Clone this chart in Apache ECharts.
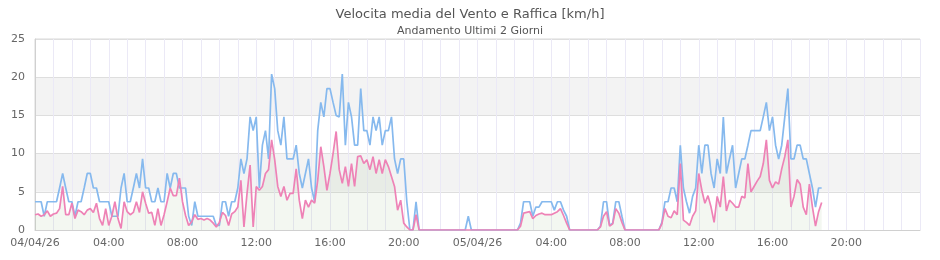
<!DOCTYPE html>
<html>
<head>
<meta charset="utf-8">
<script src="https://cdn.jsdelivr.net/npm/echarts@6/dist/echarts.min.js"></script>
<style>
html,body{margin:0;padding:0;background:#fff;}
#chart{width:940px;height:260px;}
</style>
</head>
<body>
<div id="chart"></div>
<script>
// Samples every 10 minutes starting 04/04/26 00:00 (one row = one hour)
const startLabel = '04/04/26 00:00';
const stepMinutes = 10;

// Raffica (gust) km/h
const gust = [
  3.7,3.7,3.7,1.8,3.7,3.7,
  3.7,3.7,5.5,7.4,5.5,3.7,
  3.7,1.8,3.7,3.7,5.5,7.4,
  7.4,5.5,5.5,3.7,3.7,3.7,
  3.7,1.8,1.8,1.8,5.5,7.4,
  3.7,3.7,5.5,7.4,5.5,9.3,
  5.5,5.5,3.7,3.7,5.5,3.7,
  3.7,7.4,5.5,7.4,7.4,5.5,
  5.5,5.5,1.8,0.6,3.7,1.8,
  1.8,1.8,1.8,1.8,1.8,0.6,
  0.6,3.7,3.7,1.8,3.7,3.7,
  5.5,9.3,7.4,9.3,14.8,13.0,
  14.8,5.5,11.1,13.0,9.3,20.4,
  18.5,13.0,11.1,14.8,9.3,9.3,
  9.3,11.1,7.4,5.5,7.4,9.3,
  5.5,3.7,13.0,16.7,14.8,18.5,
  18.5,16.7,15.0,14.8,20.4,11.1,
  16.7,14.8,11.1,11.1,18.5,13.0,
  13.0,11.1,14.8,13.0,14.8,11.1,
  13.0,13.0,14.8,9.3,7.4,9.3,
  9.3,3.7,0,0,3.7,0,
  0,0,0,0,0,0,
  0,0,0,0,0,0,
  0,0,0,1.8,0,0,
  0,0,0,0,0,0,
  0,0,0,0,0,0,
  0,0,0.9,3.7,3.7,3.7,
  1.8,3.0,3.0,3.7,3.7,3.7,
  3.7,2.6,3.7,3.7,2.6,1.8,
  0,0,0,0,0,0,
  0,0,0,0,0.5,3.7,
  3.7,0.6,0.9,3.7,3.7,1.8,
  0,0,0,0,0,0,
  0,0,0,0,0,0,
  1.0,3.7,3.7,5.5,5.5,3.7,
  11.1,5.5,3.7,2.2,4.4,5.5,
  11.1,7.4,11.1,11.1,7.4,5.5,
  9.3,7.4,14.8,7.4,9.3,11.1,
  5.5,7.4,9.3,9.3,11.1,13.0,
  13.0,13.0,13.0,14.8,16.7,13.0,
  14.8,11.1,9.3,11.1,14.8,18.5,
  9.3,9.3,11.1,11.1,9.3,9.3,
  7.4,5.5,3.0,5.5,5.5
];

// Velocita media (average) km/h
const media = [
  2.0,2.1,1.8,2.0,2.5,1.8,
  2.1,2.2,2.8,5.7,2.0,2.0,
  3.5,1.5,2.6,2.4,2.0,2.6,
  2.8,2.3,3.5,1.5,0.6,2.8,
  0.6,1.8,3.7,1.5,0.2,3.7,
  2.4,2.0,2.3,3.7,2.3,5.0,
  3.5,2.2,2.3,0.6,2.8,0.6,
  2.0,3.7,5.5,4.5,4.5,6.8,
  3.7,1.9,0.6,1.1,2.0,1.4,
  1.5,1.3,1.5,1.3,0.9,0.4,
  1.0,2.3,1.9,0.6,2.1,2.4,
  3.0,6.5,0.4,4.8,8.5,0.4,
  5.7,5.2,5.7,7.4,7.9,11.8,
  9.2,5.7,4.4,5.7,3.9,4.8,
  4.8,8.0,3.9,1.5,3.9,3.0,
  3.9,3.5,6.5,10.9,8.3,5.2,
  7.4,10.0,12.9,7.9,6.1,8.3,
  5.7,8.7,5.7,9.6,9.7,8.7,
  9.2,7.9,9.6,7.4,9.2,7.4,
  9.2,8.3,7.0,5.7,2.6,3.9,
  0.9,0.4,0,0,2.0,0,
  0,0,0,0,0,0,
  0,0,0,0,0,0,
  0,0,0,0,0,0,
  0,0,0,0,0,0,
  0,0,0,0,0,0,
  0,0,0.5,2.2,2.3,2.4,
  1.5,1.9,2.1,2.2,2.0,2.0,
  2.0,2.2,2.4,2.8,1.9,0.9,
  0,0,0,0,0,0,
  0,0,0,0,0.4,1.8,
  2.4,0.5,0.8,2.8,2.2,1.0,
  0,0,0,0,0,0,
  0,0,0,0,0,0,
  0.8,2.8,1.8,1.6,2.5,2.0,
  8.7,1.3,1.0,0.6,1.8,2.5,
  7.4,5.2,3.5,4.5,3.0,1.0,
  4.4,3.0,7.0,2.5,3.9,3.5,
  3.0,3.0,4.4,4.2,8.7,5.0,
  5.7,6.4,7.0,8.7,11.8,6.5,
  5.5,6.3,6.0,8.0,9.6,11.8,
  3.0,4.4,6.6,6.0,3.0,2.0,
  6.0,3.0,0.5,2.4,3.6
];

const dayLabels = ['04/04/26', '05/04/26', '06/04/26'];
const yTicks = [0, 5, 10, 15, 20, 25];

const toPairs = arr => arr.map((v, i) => [i * stepMinutes / 60, v]);

const chart = echarts.init(document.getElementById('chart'), null, {renderer: 'canvas'});
const font = 'DejaVu Sans';
chart.setOption({
  animation: false,
  backgroundColor: '#ffffff',
  title: {
    text: 'Velocita media del Vento e Raffica [km/h]',
    subtext: 'Andamento Ultimi 2 Giorni',
    left: 'center',
    top: 3,
    itemGap: 5,
    textStyle: {fontFamily: font, fontSize: 13, fontWeight: 'normal', color: '#555555'},
    subtextStyle: {fontFamily: font, fontSize: 11, color: '#555555'}
  },
  grid: {
    left: 35, right: 20, top: 39, bottom: 30,
    show: true, borderColor: '#d8d8d8', borderWidth: 1, backgroundColor: 'transparent'
  },
  xAxis: {
    type: 'value',
    min: 0, max: 48, interval: 4,
    axisLine: {show: true, lineStyle: {color: '#d0d0d0'}},
    axisTick: {show: false},
    axisLabel: {
      fontFamily: font, fontSize: 11, color: '#666666', margin: 8,
      showMaxLabel: false,
      formatter: v => {
        if (v % 24 === 0) return dayLabels[v / 24];
        const h = v % 24;
        return (h < 10 ? '0' : '') + h + ':00';
      }
    },
    splitLine: {show: true, lineStyle: {color: '#ebe9f6', width: 1}},
    minorTick: {show: false, splitNumber: 4},
    minorSplitLine: {show: true, lineStyle: {color: '#ebe9f6', width: 1}}
  },
  yAxis: {
    type: 'value',
    min: yTicks[0], max: yTicks[yTicks.length - 1], interval: 5,
    axisLine: {show: true, lineStyle: {color: '#d0d0d0'}},
    axisTick: {show: false},
    axisLabel: {fontFamily: font, fontSize: 11, color: '#666666', margin: 10},
    splitLine: {show: true, lineStyle: {color: '#dedede'}},
    splitArea: {show: true, areaStyle: {color: ['#ffffff', '#f3f3f3']}}
  },
  series: [
    {
      name: 'Raffica',
      type: 'line',
      data: toPairs(gust),
      showSymbol: false,
      lineStyle: {color: '#86b9ee', width: 1.7},
      itemStyle: {color: '#86b9ee'},
      z: 2
    },
    {
      name: 'Velocita media',
      type: 'line',
      data: toPairs(media),
      showSymbol: false,
      lineStyle: {color: '#ee82b6', width: 1.7},
      itemStyle: {color: '#ee82b6'},
      areaStyle: {color: 'rgba(160,195,140,0.18)'},
      z: 3
    }
  ]
});
</script>
</body>
</html>
